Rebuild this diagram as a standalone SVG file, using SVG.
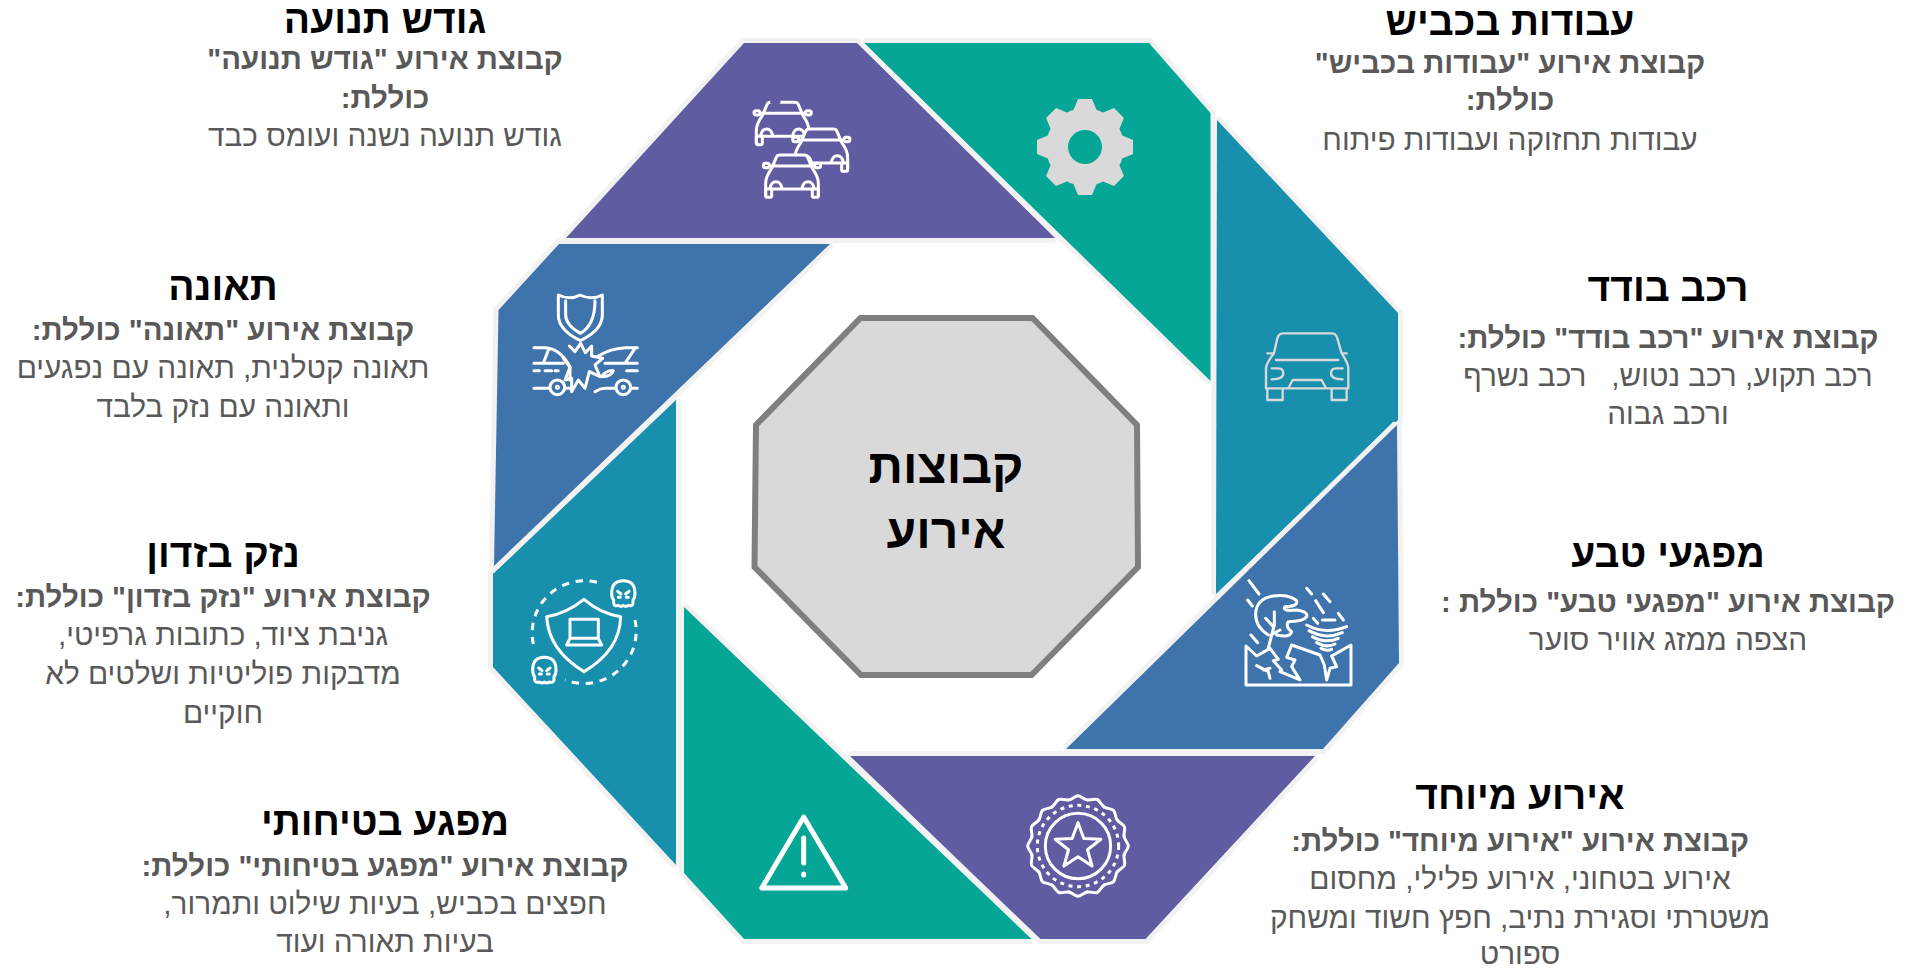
<svg xmlns="http://www.w3.org/2000/svg" width="1906" height="970" viewBox="0 0 1906 970">
<style>
text{font-family:"Liberation Sans","Noto Sans",sans-serif;direction:rtl;text-anchor:middle;white-space:pre}
.t{font-size:39px;font-weight:700;fill:#000}
.b{font-size:29.4px;font-weight:700;fill:#595959}
.d{font-size:29.8px;fill:#595959}
.c{font-size:48px;font-weight:700;fill:#000}
.s{stroke:#f2f2f2;stroke-width:10;stroke-linejoin:miter;stroke-miterlimit:2;paint-order:stroke}
.i{fill:none;stroke:#fff;stroke-width:9;stroke-linecap:round;stroke-linejoin:round}
</style>
<defs>
<path id="tooth" d="M-12,-36 L-7,-48 H7 L12,-36 Z" fill="#d9d9d9"/>
<g id="car">
<path d="M25,45 L39,12 Q42,5 50,5 H122 Q130,5 133,12 L147,45 Q165,70 165,90 V125 H7 V90 Q7,70 25,45 Z" fill="#5f5ca1" stroke="none"/>
<path d="M7,125 V90 Q7,70 25,45 L39,12 Q42,5 50,5 H122 Q130,5 133,12 L147,45 Q165,70 165,90 V125 M7,107 H165 M20,38 H152"/>
<rect x="0" y="30" width="18" height="13" rx="6.5" fill="#5f5ca1"/><rect x="154" y="30" width="18" height="13" rx="6.5" fill="#5f5ca1"/>
<path d="M7,107 V128 Q7,132 12,132 H20 Q25,132 25,128 V107 M147,107 V128 Q147,132 152,132 H160 Q165,132 165,128 V107"/>
<path d="M20,105 Q24,85 38,85 Q52,85 56,105 M116,105 Q120,85 134,85 Q148,85 152,105"/>
</g>
<path id="scallop" d="M-27.5,-138.3 C-17.5,-140.3 -8,-151 0,-151 C8,-151 17.5,-140.3 27.5,-138.3"/>
<g id="skull">
<path d="M0,38 Q0,0 35,0 Q70,0 70,38 Q70,52 64,58 V68 Q62,78 50,74 Q42,80 35,74 Q28,80 20,74 Q8,78 6,68 V58 Q0,52 0,38 Z"/>
<path d="M18,32 L28,40 M52,32 L42,40 M20,50 H26 M44,50 H50"/>
</g>
</defs>

<g id="center-node">
<polygon points="860.5,318 1032.5,318 1137,425 1138,567 1031.5,675 861,675 754.5,567 756,425" fill="#d9d9d9" stroke="#7f7f7f" stroke-width="6"/>
<text class="c" x="946" y="483">קבוצות</text>
<text class="c" x="946" y="548">אירוע</text>
</g>

<g id="node-road-works">
<polygon class="s" points="864,43 1149,43 1210.5,113 1210.5,381" fill="#06a696"/>
<circle cx="1085" cy="147" r="39" fill="#d9d9d9"/>
<use href="#tooth" transform="translate(1085,147)"/>
<use href="#tooth" transform="translate(1085,147) rotate(45)"/>
<use href="#tooth" transform="translate(1085,147) rotate(90)"/>
<use href="#tooth" transform="translate(1085,147) rotate(135)"/>
<use href="#tooth" transform="translate(1085,147) rotate(180)"/>
<use href="#tooth" transform="translate(1085,147) rotate(225)"/>
<use href="#tooth" transform="translate(1085,147) rotate(270)"/>
<use href="#tooth" transform="translate(1085,147) rotate(315)"/>
<circle cx="1085" cy="147" r="17" fill="#06a696"/>
<text class="t" x="1510" y="35">עבודות בכביש</text>
<text class="b" x="1510" y="73">קבוצת אירוע "עבודות בכביש"</text>
<text class="b" x="1510" y="110">כוללת:</text>
<text class="d" x="1510" y="150">עבודות תחזוקה ועבודות פיתוח</text>
</g>

<g id="node-traffic-volume">
<polygon class="s" points="744,43 857,43 1055,238 566,238" fill="#5f5ca1"/>
<g class="i" transform="translate(730,80) scale(.3333)">
<use href="#car" x="72" y="62"/>
<use href="#car" x="188" y="142"/>
<use href="#car" x="100" y="220"/>
<path d="M126,66 H146" stroke="#5f5ca1" stroke-width="12"/>
</g>
<text class="t" x="385" y="33">גודש תנועה</text>
<text class="b" x="385" y="69">קבוצת אירוע "גודש תנועה"</text>
<text class="b" x="385" y="108">כוללת:</text>
<text class="d" x="385" y="146">גודש תנועה נשנה ועומס כבד</text>
</g>

<g id="node-single-vehicle">
<polygon class="s" points="1217,120 1398,313 1398,420 1216,594" fill="#198fae"/>
<g class="i" style="stroke:#d9d9d9;stroke-width:7" transform="translate(1250,320) scale(.3333)">
<path d="M72,100 L82,55 Q86,40 100,40 H245 Q258,40 262,55 L275,100 Q295,130 295,145 V205 H48 V145 Q48,130 72,100 Z M78,120 H265 M52,100 H68 M275,100 H290 M65,145 H85 Q100,145 100,160 Q100,178 65,178 M278,145 H258 Q243,145 243,160 Q243,178 278,178 M115,205 L128,180 H215 L228,205 M52,205 V240 H98 V205 M245,205 V240 H290 V205"/>
</g>
<text class="t" x="1668" y="301">רכב בודד</text>
<text class="b" x="1668" y="348">קבוצת אירוע "רכב בודד" כוללת:</text>
<text class="d" x="1668" y="386">רכב תקוע, רכב נטוש,   רכב נשרף</text>
<text class="d" x="1668" y="424">ורכב גבוה</text>
</g>

<g id="node-vandalism">
<polygon class="s" points="676,400 676,865 493,667 493,574" fill="#198fae"/>
<g class="i" transform="translate(520,570) scale(.3333)">
<path d="M192,88 Q240,130 302,140 Q300,240 192,305 Q85,240 80,140 Q140,130 192,88 Z"/>
<path d="M150,205 V148 H235 V205 M140,225 H245 L235,205 H150 Z"/>
<path d="M345,150 A157,157 0 0 1 135,330 M40,222 A157,157 0 0 1 248,42" stroke-dasharray="22 20" stroke-linecap="butt"/>
<use href="#skull" x="275" y="32"/>
<use href="#skull" x="38" y="262"/>
</g>
<text class="t" x="223" y="567">נזק בזדון</text>
<text class="b" x="223" y="607">קבוצת אירוע "נזק בזדון" כוללת:</text>
<text class="d" x="223" y="645">גניבת ציוד, כתובות גרפיטי,</text>
<text class="d" x="223" y="684">מדבקות פוליטיות ושלטים לא</text>
<text class="d" x="223" y="723">חוקיים</text>
</g>

<g id="node-accident">
<polygon class="s" points="559,244 830,244 494,566 498.5,310" fill="#3f73ab"/>
<g class="i" transform="translate(520,280) scale(.3333)">
<path d="M115,45 Q150,62 180,45 Q215,62 247,45 V105 Q247,150 181,182 Q115,150 115,105 Z M137,62 V105 Q137,135 181,160 Q225,135 225,62"/>
<path d="M148,198 L165,215 L182,190 L196,218 L215,198 L215,228 L248,235 L225,255 L240,290 L208,275 L195,325 L175,300 L155,335 L155,295 L135,300 L150,262 L130,235"/>
<path d="M42,203 H75 Q120,205 150,260 V300 M85,210 L70,250 H130 M42,250 H70 M42,272 H58 M75,272 H95 M105,272 H115 M42,325 H88 M135,325 H155"/>
<circle cx="112" cy="322" r="22"/><circle cx="112" cy="322" r="3"/>
<path d="M352,203 H320 Q270,205 235,228 M345,205 L315,250 H255 M352,250 H315 M320,272 H352 M245,290 Q260,270 280,272 Q275,290 245,290 M352,325 H335 M285,325 H255 M225,335 Q240,325 255,325"/>
<circle cx="310" cy="322" r="22"/><circle cx="310" cy="322" r="3"/>
</g>
<text class="t" x="223" y="300">תאונה</text>
<text class="b" x="223" y="340">קבוצת אירוע "תאונה" כוללת:</text>
<text class="d" x="223" y="378">תאונה קטלנית, תאונה עם נפגעים</text>
<text class="d" x="223" y="417">ותאונה עם נזק בלבד</text>
</g>

<g id="node-natural-hazards">
<polygon class="s" points="1397,425 1399,663 1323,749 1066,749" fill="#3f73ab"/>
<g class="i" transform="translate(1235,570) scale(.3333)">
<path d="M33,228 V345 H348 V225 L290,258 L305,290 L285,295 L275,330 L268,285 L255,255 L170,225 L155,262 L180,270 L170,290 L195,330 L135,305 L140,300 L115,272 L130,268 L105,235 L65,258 Z"/>
<path d="M100,195 Q60,170 62,130 Q65,85 115,78 Q160,72 185,92 Q190,110 150,110 Q140,125 185,120 Q220,125 215,140 Q205,155 160,155 Q150,170 170,185 Q165,205 125,195 M118,125 V165 L110,195 L100,235 M92,145 L115,170 M108,195 L135,180"/>
<path d="M42,32 L72,72 M38,90 L52,108 M48,195 L68,218 M215,55 L230,72 M242,92 L265,128 M265,72 L285,95 M310,130 L325,150 M235,145 L248,160"/>
<path d="M262,150 H300 M215,165 Q270,195 335,170 M222,182 Q270,210 322,188 M232,200 Q270,222 310,205 M245,218 Q275,235 300,222 M258,235 Q275,245 290,238"/>
<path d="M65,287 L100,305 L105,325 M85,300 L105,295"/>
</g>
<text class="t" x="1668" y="567">מפגעי טבע</text>
<text class="b" x="1668" y="612">קבוצת אירוע "מפגעי טבע" כוללת :</text>
<text class="d" x="1668" y="650">הצפה ממזג אוויר סוער</text>
</g>

<g id="node-safety-hazard">
<polygon class="s" points="684,607 1031.5,939 744,939 684,873" fill="#06a696"/>
<path class="i" style="stroke-width:5" d="M803.7,817 L761.8,888 H845.7 Z M803.7,838 V863 M803.7,874 V875"/>
<text class="t" x="385" y="835">מפגע בטיחותי</text>
<text class="b" x="385" y="876">קבוצת אירוע "מפגע בטיחותי" כוללת:</text>
<text class="d" x="385" y="914">חפצים בכביש, בעיות שילוט ותמרור,</text>
<text class="d" x="385" y="952">בעיות תאורה ועוד</text>
</g>

<g id="node-special-event">
<polygon class="s" points="850,756 1315,756 1145.5,939 1040.5,939" fill="#5f5ca1"/>
<g class="i" transform="translate(1020,790) scale(.3333)">
<g transform="translate(174,168)">
<use href="#scallop"/><use href="#scallop" transform="rotate(22.5)"/><use href="#scallop" transform="rotate(45)"/><use href="#scallop" transform="rotate(67.5)"/><use href="#scallop" transform="rotate(90)"/><use href="#scallop" transform="rotate(112.5)"/><use href="#scallop" transform="rotate(135)"/><use href="#scallop" transform="rotate(157.5)"/><use href="#scallop" transform="rotate(180)"/><use href="#scallop" transform="rotate(202.5)"/><use href="#scallop" transform="rotate(225)"/><use href="#scallop" transform="rotate(247.5)"/><use href="#scallop" transform="rotate(270)"/><use href="#scallop" transform="rotate(292.5)"/><use href="#scallop" transform="rotate(315)"/><use href="#scallop" transform="rotate(337.5)"/>
<circle r="122" stroke-dasharray="12 14" stroke-linecap="butt"/>
<circle r="98"/>
</g>
<polygon points="174,98 191.6,145.7 242.5,147.8 202.5,179.3 216.3,228.2 174,200 131.7,228.2 145.5,179.3 105.5,147.8 156.4,145.7"/>
</g>
<text class="t" x="1520" y="809">אירוע מיוחד</text>
<text class="b" x="1520" y="851">קבוצת אירוע "אירוע מיוחד" כוללת:</text>
<text class="d" x="1520" y="889">אירוע בטחוני, אירוע פלילי, מחסום</text>
<text class="d" x="1520" y="928">משטרתי וסגירת נתיב, חפץ חשוד ומשחק</text>
<text class="d" x="1520" y="964">ספורט</text>
</g>
</svg>
